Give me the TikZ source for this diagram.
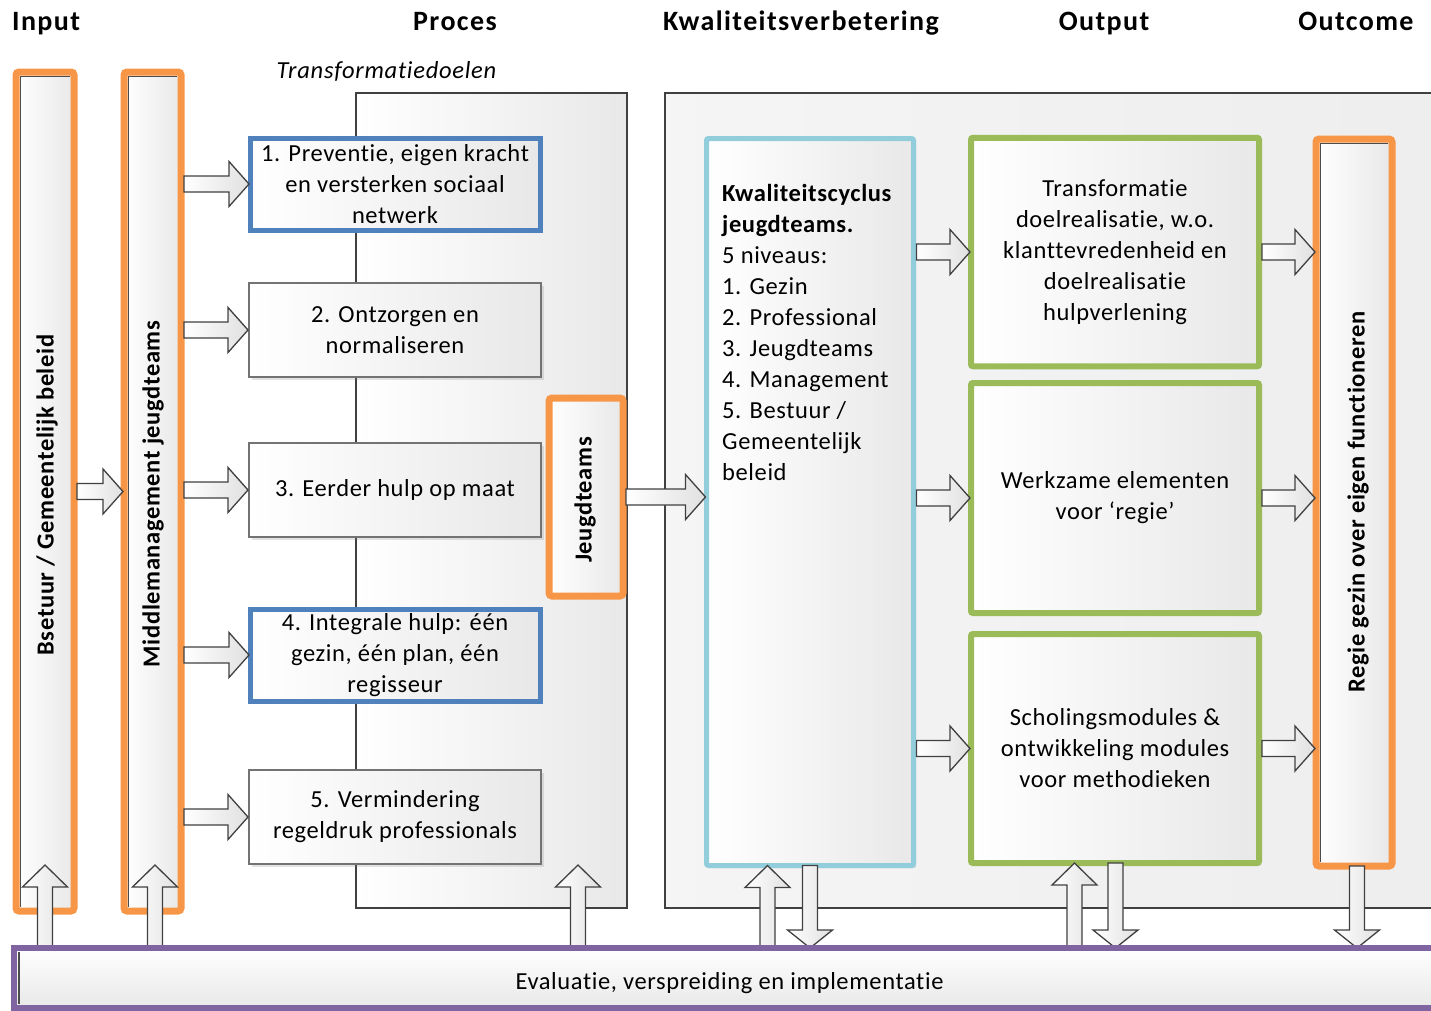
\documentclass[tikz,border=0pt]{standalone}
\usepackage{fontspec}
\setmainfont[Ligatures=NoCommon]{Carlito}
\usetikzlibrary{calc,shadows}
\definecolor{cOrange}{HTML}{F79646}
\definecolor{cBlue}{HTML}{4F81BD}
\definecolor{cLBlue}{HTML}{92CDDC}
\definecolor{cGreen}{HTML}{9BBB59}
\definecolor{cPurple}{HTML}{8064A2}
\newcommand{\bodyfnt}{\fontsize{24.5}{31}\selectfont\addfontfeatures{LetterSpace=2.5}}
\newcommand{\boldfnt}{\fontsize{24.5}{28}\selectfont\bfseries\addfontfeatures{LetterSpace=2.5}}
\newcommand{\hdrfnt}{\fontsize{28}{30}\selectfont\bfseries\addfontfeatures{LetterSpace=5}}
\newcommand{\harrowblk}[2]{\draw[blockarrow] let \p1=#1, \p2=#2 in (\x1+3,\y1+8) -- (\x2-21,\y1+8) -- (\x2-21,\y1+22.5) -- (\x2-1,\y1) -- (\x2-21,\y1-22.5) -- (\x2-21,\y1-8) -- (\x1+3,\y1-8) -- cycle;}
\newcommand{\uarrowblk}[2]{\draw[blockarrow] let \p1=#1, \p2=#2 in (\x1-7.5,\y1) -- (\x1-7.5,\y2-22) -- (\x1-22.5,\y2-22) -- (\x1,\y2) -- (\x1+22.5,\y2-22) -- (\x1+7.5,\y2-22) -- (\x1+7.5,\y1) -- cycle;}
\newcommand{\darrowblk}[2]{\draw[blockarrow] let \p1=#1, \p2=#2 in (\x1-7.5,\y1) -- (\x1-7.5,\y2+18) -- (\x1-22.5,\y2+18) -- (\x1,\y2) -- (\x1+22.5,\y2+18) -- (\x1+7.5,\y2+18) -- (\x1+7.5,\y1) -- cycle;}
\begin{document}
\begin{tikzpicture}[x=1pt,y=-1pt,
  box/.style={rectangle, outer sep=0pt, inner sep=0pt, left color=white, right color=black!9, align=center, font=\bodyfnt},
  softshadow/.style={drop shadow={shadow xshift=2.5pt, shadow yshift=-2.5pt, opacity=0.22}},
  bgbox/.style={box, draw=black!75, line width=1.5},
  pbox/.style={box, draw=black!55, line width=1.5, minimum width=292, minimum height=94, softshadow},
  bluebox/.style={pbox, draw=cBlue, line width=5, minimum width=290, minimum height=92},
  orangebox/.style={box, draw=cOrange, line width=7, rounded corners=3, softshadow},
  greenbox/.style={box, draw=cGreen, line width=6, rounded corners=2, minimum width=288, softshadow},
  kcbox/.style={box, draw=cLBlue, line width=5, rounded corners=2, softshadow},
  evbox/.style={rectangle, outer sep=0pt, inner sep=0pt, draw=cPurple, line width=6, top color=white, bottom color=black!9},
  innerline/.style={draw=black!70, line width=1.3},
  blockarrow/.style={draw=black!75, line width=1.3, left color=white, right color=black!12},
  hdr/.style={font=\hdrfnt, inner sep=0pt, anchor=base},
  vlabel/.style={rotate=90, font=\boldfnt, inner sep=0pt}
]
\clip (0,0) rectangle (1431,1010);
\useasboundingbox (0,0) rectangle (1431,1010);

% headers
\node[hdr, anchor=base west] (hIn) at (12,30) {Input};
\node[hdr] (hPr) at (455,30) {Proces};
\node[hdr] (hKw) at (801,30) {Kwaliteitsverbetering};
\node[hdr] (hOu) at (1104,30) {Output};
\node[hdr] (hOc) at (1356,30) {Outcome};
\node[font=\fontsize{24.5}{28}\selectfont\itshape\addfontfeatures{LetterSpace=3}, inner sep=0pt, anchor=base] (tdoel) at (386.5,78) {Transformatiedoelen};

% background boxes
\node[bgbox, anchor=north west, minimum width=271, minimum height=815] (pbg) at (356,93) {};
\node[bgbox, anchor=north west, minimum width=820, minimum height=815, left color=black!4, right color=black!7] (kbg) at (665,93) {};

% input columns
\node[orangebox, minimum width=58, minimum height=839] (col1) at (45,491.5) {};
\node[orangebox, minimum width=57, minimum height=839] (col2) at (152.5,491.5) {};
\draw[innerline] ([xshift=4.8pt,yshift=4pt]col1.south west) -- ([xshift=4.8pt,yshift=-4.8pt]col1.north west) -- ([xshift=-4pt,yshift=-4.8pt]col1.north east);
\draw[innerline] ([xshift=4.8pt,yshift=4pt]col2.south west) -- ([xshift=4.8pt,yshift=-4.8pt]col2.north west) -- ([xshift=-4pt,yshift=-4.8pt]col2.north east);
\node[vlabel] (l1) at (47,495) {Bsetuur / Gemeentelijk beleid};
\node[vlabel] (l2) at (153,494) {Middlemanagement jeugdteams};

% process boxes
\node[bluebox] (p1) at (395,184) {1. Preventie, eigen kracht\\en versterken sociaal\\netwerk};
\node[pbox] (p2) at (395,330) {2. Ontzorgen en\\normaliseren};
\node[pbox] (p3) at (395,490) {3. Eerder hulp op maat};
\node[bluebox] (p4) at (395,655) {4. Integrale hulp: één\\gezin, één plan, één\\regisseur};
\node[pbox] (p5) at (395,817) {5. Vermindering\\regeldruk professionals};

% jeugdteams
\node[orangebox, minimum width=74, minimum height=198] (jt) at (586,497) {};
\node[vlabel] (ljt) at (585,500) {Jeugdteams};

% kwaliteitscyclus
\node[kcbox, minimum width=207, minimum height=727] (kc) at (810,502) {};
\node[anchor=north west, align=left, inner sep=0pt, font=\bodyfnt] (kct) at (722,184) {\textbf{Kwaliteitscyclus}\\\textbf{jeugdteams.}\\5 niveaus:\\1. Gezin\\2. Professional\\3. Jeugdteams\\4. Management\\5. Bestuur /\\Gemeentelijk\\beleid};

% output boxes
\node[greenbox, minimum height=228.5] (g1) at (1115,252) {Transformatie\\doelrealisatie, w.o.\\klanttevredenheid en\\doelrealisatie\\hulpverlening};
\node[greenbox, minimum height=230] (g2) at (1115,498) {Werkzame elementen\\voor ‘regie’};
\node[greenbox, minimum height=229] (g3) at (1115,748.5) {Scholingsmodules \&\\ontwikkeling modules\\voor methodieken};

% outcome
\node[orangebox, minimum width=76, minimum height=727] (oc) at (1354,502.5) {};
\draw[innerline] ([xshift=4.8pt,yshift=4pt]oc.south west) -- ([xshift=4.8pt,yshift=-4.8pt]oc.north west) -- ([xshift=-4pt,yshift=-4.8pt]oc.north east);
\node[vlabel] (loc) at (1358,502) {Regie gezin over eigen functioneren};

% horizontal block arrows
\harrowblk{(col1.east)}{(col2.west)}
\harrowblk{(col2.east |- p1)}{(p1.west)}
\harrowblk{(col2.east |- p2)}{(p2.west)}
\harrowblk{(col2.east |- p3)}{(p3.west)}
\harrowblk{(col2.east |- p4)}{(p4.west)}
\harrowblk{(col2.east |- p5)}{(p5.west)}
\harrowblk{(jt.east)}{(kc.west |- jt)}
\harrowblk{(kc.east |- g1)}{(g1.west)}
\harrowblk{(kc.east |- g2)}{(g2.west)}
\harrowblk{(kc.east |- g3)}{(g3.west)}
\harrowblk{(g1.east)}{(oc.west |- g1)}
\harrowblk{(g2.east)}{(oc.west |- g2)}
\harrowblk{(g3.east)}{(oc.west |- g3)}

% evaluation bar
\node[evbox, anchor=north west, minimum width=1431, minimum height=60] (ev) at (14,948) {};
\node[font=\bodyfnt, inner sep=0pt] (evt) at ($(ev.center)+(0,5)$) {Evaluatie, verspreiding en implementatie};

% vertical arrow coordinates
\coordinate (u1) at (45,865);
\coordinate (u2) at (155,865);
\coordinate (u3) at (578,865);
\coordinate (u4) at (767.5,866);
\coordinate (u5) at (1074.5,866);
\coordinate (d1) at (810,900);
\coordinate (d2) at (1115.5,900);
\coordinate (d3) at (1357,900);

\uarrowblk{(u1 |- ev.north)}{(u1)}
\uarrowblk{(u2 |- ev.north)}{(u2)}
\uarrowblk{(u3 |- ev.north)}{(u3)}
\uarrowblk{(u4 |- ev.north)}{(u4 |- kc.south)}
\uarrowblk{(u5 |- ev.north)}{(u5 |- g3.south)}
\darrowblk{(d1 |- kc.south)}{(d1 |- ev.north)}
\darrowblk{(d2 |- g3.south)}{(d2 |- ev.north)}
\darrowblk{(d3 |- oc.south)}{(d3 |- ev.north)}

% redraw purple border on top of arrow ends
\draw[draw=cPurple, line width=6] (ev.south west) -- (ev.north west) -- (ev.north east);
\draw[innerline] ([xshift=5pt,yshift=4pt]ev.south west) -- ([xshift=5pt,yshift=-4pt]ev.north west);
\end{tikzpicture}
\end{document}
